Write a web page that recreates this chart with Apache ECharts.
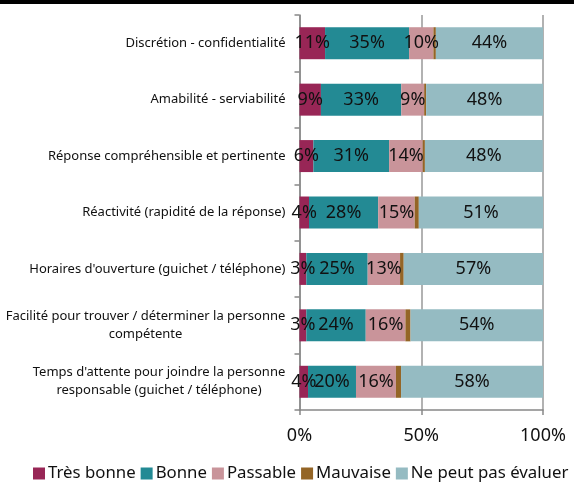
<!DOCTYPE html>
<html>
<head>
<meta charset="utf-8">
<script src="https://cdn.jsdelivr.net/npm/echarts@6/dist/echarts.min.js"></script>
<style>
  html, body { margin: 0; padding: 0; background: #fff; }
  #chart { width: 574px; height: 485px; }
</style>
</head>
<body>
<div id="chart"></div>
<script>
var categories = [
  'Discrétion - confidentialité',
  'Amabilité - serviabilité',
  'Réponse compréhensible et pertinente',
  'Réactivité (rapidité de la réponse)',
  "Horaires d'ouverture (guichet / téléphone)",
  'Facilité pour trouver / déterminer la personne\ncompétente',
  "Temps d'attente pour joindre la personne\nresponsable (guichet / téléphone)"
];
var tresBonne = [10.5, 8.8, 5.7, 3.9, 2.8, 2.8, 3.5];
var bonne = [34.5, 33, 31.1, 28.4, 25.2, 24.4, 19.7];
var passable = [10, 9.4, 13.8, 15, 13.3, 16.3, 16.4];
var mauvaise = [1, 0.8, 0.9, 1.7, 1.5, 2.1, 2.1];
var nePeutPas = [44, 48, 48.4, 51, 57.2, 54.4, 58.3];
var xTicks = ['0%', '50%', '100%'];

var chart = echarts.init(document.getElementById('chart'));
var font = 'Noto Sans';

// measure the longest line so multi-line labels are centred but right-anchored
var ctx = document.createElement('canvas').getContext('2d');
ctx.font = '13px "' + font + '"';
var richStyles = {};
function labelFor(v, idx) {
  if (v.indexOf('\n') < 0) return v;
  var w = Math.max.apply(null, v.split('\n').map(function (s) { return ctx.measureText(s).width; }));
  var key = 'c' + idx;
  richStyles[key] = { fontFamily: font, fontSize: 13, color: '#111', lineHeight: 18, align: 'center', width: Math.ceil(w) };
  return '{' + key + '|' + v + '}';
}
var labelTexts = categories.map(labelFor);

function serie(name, data, color, showLabel) {
  return {
    name: name,
    type: 'bar',
    stack: 'all',
    data: data,
    barWidth: 32,
    itemStyle: { color: color },
    label: {
      show: showLabel,
      position: 'inside',
      color: '#111',
      fontFamily: font,
      fontSize: 18,
      formatter: function (p) { return Math.round(p.value) + '%'; }
    }
  };
}

var option = {
  animation: false,
  graphic: [{
    type: 'rect',
    shape: { x: 0, y: 0, width: 574, height: 4 },
    style: { fill: '#000' }
  }],
  grid: { left: 299.5, right: 31, top: 15, bottom: 75 },
  legend: {
    bottom: -2,
    left: 28,
    width: 700,
    itemWidth: 12,
    itemHeight: 12,
    itemGap: 5,
    icon: 'rect',
    textStyle: { fontFamily: font, fontSize: 16.8, color: '#111', padding: [0, 0, 0, -2] },
    data: ['Très bonne', 'Bonne', 'Passable', 'Mauvaise', 'Ne peut pas évaluer']
  },
  xAxis: {
    type: 'value',
    min: 0,
    max: 100,
    interval: 50,
    axisLine: { show: true, lineStyle: { color: '#888', width: 1.5 } },
    axisTick: { show: true, length: 5, lineStyle: { color: '#888', width: 1.5 } },
    splitLine: { show: true, lineStyle: { color: '#999', width: 1.5 } },
    axisLabel: {
      fontFamily: font,
      fontSize: 18,
      color: '#111',
      margin: 17,
      formatter: function (v) { return xTicks[v / 50]; }
    }
  },
  yAxis: {
    type: 'category',
    inverse: true,
    data: categories,
    axisLine: { show: true, lineStyle: { color: '#888', width: 1.5 } },
    axisTick: { show: true, length: 5, lineStyle: { color: '#888', width: 1.5 } },
    axisLabel: {
      fontFamily: font,
      fontSize: 13,
      color: '#111',
      margin: 14,
      align: 'right',
      lineHeight: 18,
      formatter: function (v, i) { return labelTexts[i]; },
      rich: richStyles
    }
  },
  series: [
    serie('Très bonne', tresBonne, '#982656', true),
    serie('Bonne', bonne, '#238a94', true),
    serie('Passable', passable, '#c9949a', true),
    serie('Mauvaise', mauvaise, '#946526', false),
    serie('Ne peut pas évaluer', nePeutPas, '#95bbc2', true)
  ]
};
chart.setOption(option);
</script>
</body>
</html>
